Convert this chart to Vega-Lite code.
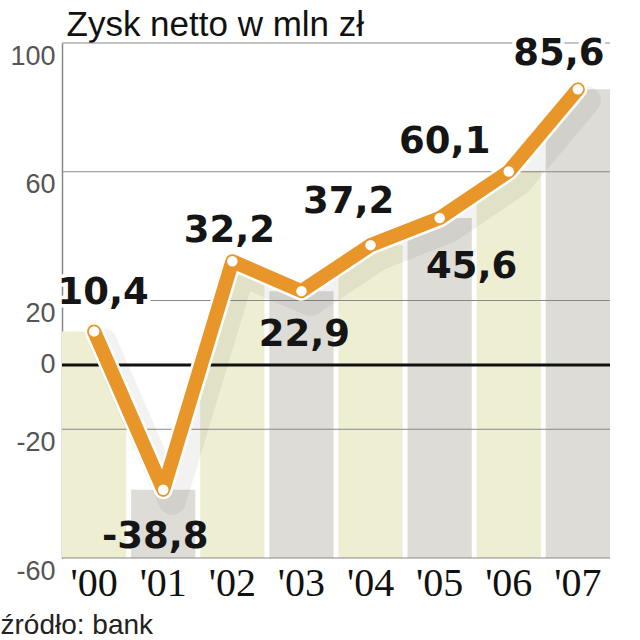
{
  "$schema": "https://vega.github.io/schema/vega-lite/v6.json",
  "width": 548,
  "height": 515,
  "autosize": "none",
  "padding": {"left": 62, "top": 43, "right": 30, "bottom": 82},
  "background": "white",
  "config": {
    "view": {"stroke": null},
    "font": "Liberation Sans"
  },
  "data": {
    "values": [
      {"year": "'00", "value": 10.4, "label": "10,4", "shade": "a"},
      {"year": "'01", "value": -38.8, "label": "-38,8", "shade": "b"},
      {"year": "'02", "value": 32.2, "label": "32,2", "shade": "a"},
      {"year": "'03", "value": 22.9, "label": "22,9", "shade": "b"},
      {"year": "'04", "value": 37.2, "label": "37,2", "shade": "a"},
      {"year": "'05", "value": 45.6, "label": "45,6", "shade": "b"},
      {"year": "'06", "value": 60.1, "label": "60,1", "shade": "a"},
      {"year": "'07", "value": 85.6, "label": "85,6", "shade": "b"}
    ]
  },
  "layer": [
    {
      "mark": {"type": "bar"},
      "encoding": {
        "x": {
          "field": "year",
          "type": "ordinal",
          "sort": null,
          "scale": {"paddingInner": 0.07, "paddingOuter": 0},
          "axis": {
            "title": "źródło: bank",
            "titleAnchor": "start",
            "titleAlign": "left",
            "titleX": -62,
            "titleY": 75,
            "titleFont": "Liberation Sans",
            "titleFontSize": 28,
            "titleFontWeight": "normal",
            "titleColor": "#222",
            "titleBaseline": "alphabetic",
            "labelAngle": 0,
            "labelFont": "Liberation Sans Narrow",
            "labelFontSize": 40,
            "labelColor": "#111",
            "labelPadding": 5,
            "ticks": false,
            "domain": false,
            "grid": false
          }
        },
        "y": {
          "field": "value",
          "type": "quantitative",
          "scale": {"domain": [-60, 100], "nice": false},
          "axis": {
            "title": "Zysk netto w mln zł",
            "titleAngle": 0,
            "titleAlign": "left",
            "titleAnchor": "start",
            "titleBaseline": "alphabetic",
            "titleX": 4,
            "titleY": -8,
            "titleFont": "Liberation Sans",
            "titleFontSize": 35,
            "titleFontWeight": "normal",
            "titleColor": "#111",
            "values": [-60, -20, 0, 20, 60, 100],
            "labelExpr": "replace(datum.label, '−', '-')",
            "labelFont": "Liberation Sans",
            "labelFontSize": 27,
            "labelColor": "#555",
            "labelBaseline": {"condition": {"test": "datum.value == 0", "value": "middle"}, "value": "top"},
            "labelPadding": 7,
            "ticks": false,
            "domain": true,
            "domainColor": "#888",
            "domainWidth": 1.5,
            "grid": false
          }
        },
        "y2": {"datum": -60},
        "color": {
          "field": "shade",
          "type": "nominal",
          "scale": {"domain": ["a", "b"], "range": ["#eeeed3", "#dddcd6"]},
          "legend": null
        }
      }
    },
    {
      "mark": {"type": "area", "color": "white", "opacity": 1},
      "encoding": {
        "x": {"field": "year", "type": "ordinal", "sort": null},
        "y": {"field": "value", "type": "quantitative"},
        "y2": {"datum": 100}
      }
    },
    {
      "data": {"values": [{"g": -60}, {"g": -20}, {"g": 20}, {"g": 60}, {"g": 100}]},
      "mark": {"type": "rule", "color": "#888", "strokeWidth": 1},
      "encoding": {
        "y": {"field": "g", "type": "quantitative"}
      }
    },
    {
      "data": {"values": [{"g": 0}]},
      "mark": {"type": "rule", "color": "#111", "strokeWidth": 3},
      "encoding": {
        "y": {"field": "g", "type": "quantitative"}
      }
    },
    {
      "mark": {"type": "line", "color": "#000", "opacity": 0.05, "strokeWidth": 28, "strokeCap": "round", "strokeJoin": "round", "xOffset": 9, "yOffset": 11},
      "encoding": {
        "x": {"field": "year", "type": "ordinal", "sort": null},
        "y": {"field": "value", "type": "quantitative"}
      }
    },
    {
      "mark": {"type": "line", "color": "white", "strokeWidth": 19, "strokeCap": "round", "strokeJoin": "round"},
      "encoding": {
        "x": {"field": "year", "type": "ordinal", "sort": null},
        "y": {"field": "value", "type": "quantitative"}
      }
    },
    {
      "mark": {"type": "line", "color": "#e8962a", "strokeWidth": 14, "strokeCap": "round", "strokeJoin": "round"},
      "encoding": {
        "x": {"field": "year", "type": "ordinal", "sort": null},
        "y": {"field": "value", "type": "quantitative"}
      }
    },
    {
      "mark": {"type": "point", "filled": true, "color": "white", "size": 110, "opacity": 1},
      "encoding": {
        "x": {"field": "year", "type": "ordinal", "sort": null},
        "y": {"field": "value", "type": "quantitative"}
      }
    },
    {
      "transform": [{"filter": "datum.year == \"'00\""}],
      "layer": [
        {"mark": {"type": "text", "font": "DejaVu Sans", "fontWeight": "bold", "fontSize": 37, "color": "white", "stroke": "white", "strokeWidth": 7, "strokeJoin": "round", "baseline": "alphabetic", "dx": 9, "dy": -27}},
        {"mark": {"type": "text", "font": "DejaVu Sans", "fontWeight": "bold", "fontSize": 37, "color": "#151515", "baseline": "alphabetic", "dx": 9, "dy": -27}}
      ],
      "encoding": {
        "x": {"field": "year", "type": "ordinal", "sort": null},
        "y": {"field": "value", "type": "quantitative"},
        "text": {"field": "label"}
      }
    },
    {
      "transform": [{"filter": "datum.year == \"'01\""}],
      "mark": {"type": "text", "font": "DejaVu Sans", "fontWeight": "bold", "fontSize": 37, "color": "#151515", "baseline": "alphabetic", "dx": -8, "dy": 58},
      "encoding": {
        "x": {"field": "year", "type": "ordinal", "sort": null},
        "y": {"field": "value", "type": "quantitative"},
        "text": {"field": "label"}
      }
    },
    {
      "transform": [{"filter": "datum.year == \"'02\""}],
      "mark": {"type": "text", "font": "DejaVu Sans", "fontWeight": "bold", "fontSize": 37, "color": "#151515", "baseline": "alphabetic", "dx": -3, "dy": -19},
      "encoding": {
        "x": {"field": "year", "type": "ordinal", "sort": null},
        "y": {"field": "value", "type": "quantitative"},
        "text": {"field": "label"}
      }
    },
    {
      "transform": [{"filter": "datum.year == \"'03\""}],
      "mark": {"type": "text", "font": "DejaVu Sans", "fontWeight": "bold", "fontSize": 37, "color": "#151515", "baseline": "alphabetic", "dx": 3, "dy": 55},
      "encoding": {
        "x": {"field": "year", "type": "ordinal", "sort": null},
        "y": {"field": "value", "type": "quantitative"},
        "text": {"field": "label"}
      }
    },
    {
      "transform": [{"filter": "datum.year == \"'04\""}],
      "mark": {"type": "text", "font": "DejaVu Sans", "fontWeight": "bold", "fontSize": 37, "color": "#151515", "baseline": "alphabetic", "dx": -22, "dy": -32},
      "encoding": {
        "x": {"field": "year", "type": "ordinal", "sort": null},
        "y": {"field": "value", "type": "quantitative"},
        "text": {"field": "label"}
      }
    },
    {
      "transform": [{"filter": "datum.year == \"'05\""}],
      "mark": {"type": "text", "font": "DejaVu Sans", "fontWeight": "bold", "fontSize": 37, "color": "#151515", "baseline": "alphabetic", "dx": 32, "dy": 60},
      "encoding": {
        "x": {"field": "year", "type": "ordinal", "sort": null},
        "y": {"field": "value", "type": "quantitative"},
        "text": {"field": "label"}
      }
    },
    {
      "transform": [{"filter": "datum.year == \"'06\""}],
      "mark": {"type": "text", "font": "DejaVu Sans", "fontWeight": "bold", "fontSize": 37, "color": "#151515", "baseline": "alphabetic", "dx": -64, "dy": -18},
      "encoding": {
        "x": {"field": "year", "type": "ordinal", "sort": null},
        "y": {"field": "value", "type": "quantitative"},
        "text": {"field": "label"}
      }
    },
    {
      "transform": [{"filter": "datum.year == \"'07\""}],
      "layer": [
        {"mark": {"type": "text", "font": "DejaVu Sans", "fontWeight": "bold", "fontSize": 37, "color": "white", "stroke": "white", "strokeWidth": 8, "strokeJoin": "round", "baseline": "alphabetic", "dx": -19, "dy": -24}},
        {"mark": {"type": "text", "font": "DejaVu Sans", "fontWeight": "bold", "fontSize": 37, "color": "#151515", "baseline": "alphabetic", "dx": -19, "dy": -24}}
      ],
      "encoding": {
        "x": {"field": "year", "type": "ordinal", "sort": null},
        "y": {"field": "value", "type": "quantitative"},
        "text": {"field": "label"}
      }
    }
  ]
}
